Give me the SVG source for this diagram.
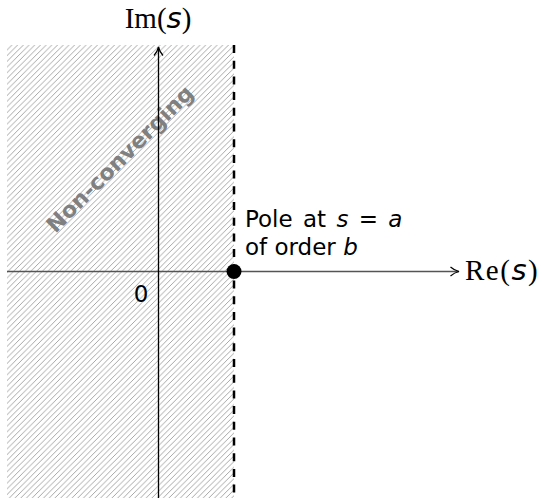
<svg xmlns="http://www.w3.org/2000/svg" width="542" height="498" viewBox="0 0 542 498">
<style>
.sans{font-family:"DejaVu Sans","Liberation Sans",sans-serif;}
.serif{font-family:"Liberation Serif","DejaVu Serif",serif;}
.lbl{font-size:23px;fill:#000;}
.ax{stroke-width:1.3;fill:none;}
</style>
<defs>
<pattern id="hatch" patternUnits="userSpaceOnUse" width="5.7" height="5.7">
<path d="M-1,6.7 L6.7,-1 M-1,1 L1,-1 M4.7,6.7 L6.7,4.7" stroke="#909090" stroke-width="0.8"/>
</pattern>
<marker id="arr" viewBox="0 0 12 12" refX="10.5" refY="6" markerWidth="12" markerHeight="12" markerUnits="userSpaceOnUse" orient="auto">
<path d="M2,1.5 Q6,5 10.5,6 Q6,7 2,10.5" fill="none" stroke="#000" stroke-width="1.2"/>
</marker>
</defs>
<g id="region">
<rect x="7" y="45" width="227" height="453" fill="url(#hatch)"/>
<text class="sans" x="121" y="160" transform="rotate(-45 121 160)" text-anchor="middle" dominant-baseline="middle" font-size="22" font-weight="bold" fill="#808080">Non-converging</text>
</g>
<g id="connectors">
<line class="ax" x1="7" y1="271.5" x2="459" y2="271.5" stroke="#555" marker-end="url(#arr)"/>
<line class="ax" x1="158.5" y1="498" x2="158.5" y2="47" stroke="#000" marker-end="url(#arr)"/>
<line x1="234" y1="45" x2="234" y2="498" stroke="#000" stroke-width="2.5" stroke-dasharray="8,7.7"/>
</g>
<g id="pole">
<circle cx="234" cy="271.5" r="7.5" fill="#000"/>
<text class="sans lbl" x="245" y="227" word-spacing="3">Pole at <tspan font-style="italic">s</tspan> = <tspan font-style="italic">a</tspan></text>
<text class="sans lbl" x="245" y="255">of order <tspan font-style="italic">b</tspan></text>
</g>
<g id="labels">
<text class="serif" x="158" y="28" font-size="29" text-anchor="middle">Im(<tspan class="sans" font-style="italic">s</tspan>)</text>
<text class="serif" x="465" y="280" font-size="29" letter-spacing="1.5">Re(<tspan class="sans" font-style="italic">s</tspan>)</text>
<text class="sans lbl" x="141" y="302" text-anchor="middle" font-size="25">0</text>
</g>
</svg>
